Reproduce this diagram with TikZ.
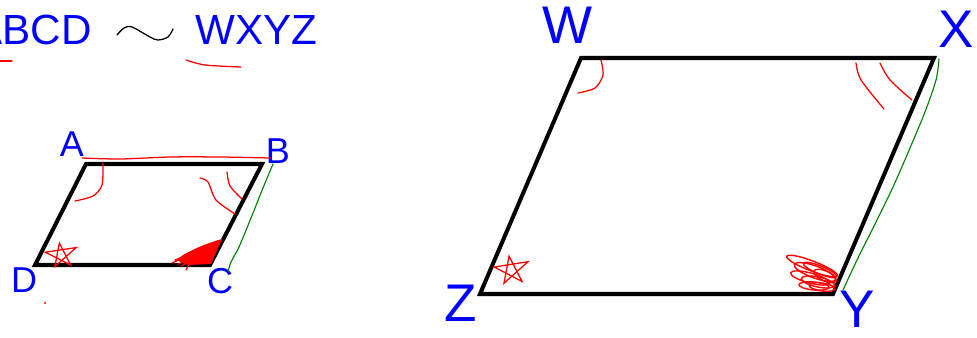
\documentclass[tikz,border=0pt]{standalone}
\usepackage{fontspec}
\setmainfont{Liberation Sans}
\usetikzlibrary{calc}
\definecolor{letterblue}{HTML}{0000FF}
\definecolor{penred}{HTML}{FF0000}
\definecolor{pengreen}{HTML}{008000}

\begin{document}
\begin{tikzpicture}[x=0.25mm,y=-0.25mm,
    edge/.style={line width=2.85pt,line join=miter},
    redpen/.style={penred,line width=0.9pt,line cap=round},
    greenpen/.style={pengreen,line width=0.8pt,line cap=round},
    toplbl/.style={letterblue,inner sep=0pt,font=\fontsize{30}{32}\selectfont},
    smalllbl/.style={letterblue,inner sep=0pt,font=\fontsize{25.6}{28}\selectfont},
    biglbl/.style={letterblue,inner sep=0pt,font=\fontsize{37.7}{40}\selectfont}]
    \useasboundingbox (0,0) rectangle (977,338);
    % statement
    \node[toplbl,anchor=base east] (lhs) at (92,45) {ABCD};
    \node[toplbl,anchor=base west] (rhs) at (195,45) {WXYZ};
    \draw[black,line width=0.9pt,line cap=round]
      plot[smooth] coordinates {
        (117,35) (124,28) (132,27) (150,37) (158,40) (168,37) (173,29)
      };
    \draw[redpen] (0,61) -- (12,61);
    \draw[redpen] plot[smooth] coordinates {(186,60) (205,65) (241,67)};
    % small parallelogram
    \coordinate (A) at (86,164);
    \coordinate (B) at (262,164);
    \coordinate (C) at (210,265);
    \coordinate (D) at (35,265);
    \draw[edge] (A) -- (B) -- (C) -- (D) -- cycle;
    \node[smalllbl] (labA) at (72,144) {A};
    \node[smalllbl] (labB) at (278,151) {B};
    \node[smalllbl] (labC) at (220,281) {C};
    \node[smalllbl] (labD) at (24,280) {D};
    \draw[redpen] plot[smooth] coordinates {
        (82,158) (120,159) (170,157) (220,157) (270,158)
      };
    \draw[greenpen] plot[smooth] coordinates {
        (273,164) (263,188) (251,218) (239,247) (231,262) (228,272)
      };
    \draw[redpen] plot[smooth] coordinates {(103,163) (102,185) (93,196) (75,201)};
    \draw[redpen] plot[smooth] coordinates {(227,172) (230,186) (242,199)};
    \draw[redpen] plot[smooth] coordinates {(200,178) (208,182) (216,200) (235,214)};
    \draw[redpen,shift={(61,255)},rotate=8]
      (-90:12) -- (54:14) -- (198:16) -- (342:17) -- (126:13) -- cycle;
    \fill[penred] (C) ++(1,-1) -- (222,239)
      .. controls (204,244) and (186,252) .. (176,260) -- (188,265) -- cycle;
    \draw[redpen] (172,263) -- (220,241) (175,260) -- (219,244) (181,266) -- (216,248)
      (178,264) -- (214,251) (186,270) -- (190,262);
    \fill[penred] (45,303) circle (1.2);
    % large parallelogram
    \coordinate (W) at (581,58);
    \coordinate (X) at (934,58);
    \coordinate (Y) at (833,294);
    \coordinate (Z) at (480,294);
    \draw[edge] (W) -- (X) -- (Y) -- (Z) -- cycle;
    \node[biglbl] (labW) at (568,25) {W};
    \node[biglbl] (labX) at (956,29) {X};
    \node[biglbl] (labY) at (857,309) {Y};
    \node[biglbl] (labZ) at (461,303) {Z};
    \draw[greenpen] plot[smooth] coordinates {
        (939,59) (936,80) (925,112) (910,148) (893,187) (876,222) (858,258) (843,290)
      };
    \draw[redpen] plot[smooth] coordinates {(601,60) (603,75) (595,88) (578,93)};
    \draw[redpen] plot[smooth] coordinates {(856,63) (861,80) (884,109)};
    \draw[redpen] plot[smooth] coordinates {(880,63) (890,80) (912,100)};
    \draw[redpen,shift={(511,270)},rotate=8]
      (-90:14) -- (54:16) -- (198:17) -- (342:19) -- (126:15) -- cycle;
    \foreach \cx/\cy/\rx/\ry/\rot in {812/266/27/5/-21, 815/272/22/6/-20,
        810/278/20/5/-15, 818/282/17/5/-12, 822/287/13/4/-8,
        814/286/15/4/-5, 825/276/12/5/-25, 820/270/18/4/-22} {
      \draw[redpen,line width=1pt,rotate around={\rot:(\cx,\cy)}]
        (\cx,\cy) ellipse ({\rx} and {\ry});
    }
\end{tikzpicture}
\end{document}
